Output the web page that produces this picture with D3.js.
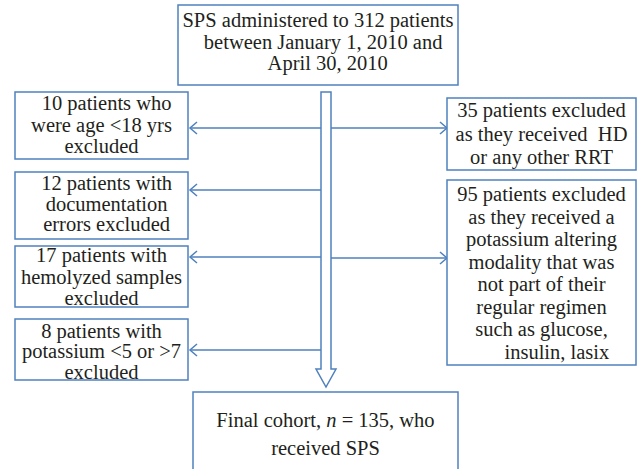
<!DOCTYPE html>
<html>
<head>
<meta charset="utf-8">
<script src="https://cdn.jsdelivr.net/npm/d3@7"></script>
<style>
  body { margin: 0; background: #fff; }
  svg text { font-family: "Liberation Serif", "Times New Roman", Times, "DejaVu Serif", serif; fill: #231f20; white-space: pre; }
</style>
</head>
<body>
<div id="chart"></div>
<script>
/* flowchart texts */
var startText = ["SPS administered to 312 patients", "  between January 1, 2010 and", "    April 30, 2010"];
var leftTexts = [
	["  10 patients who", "were age <18 yrs", "excluded"],
	["  12 patients with", "  documentation", "  errors excluded"],
	["17 patients with", "hemolyzed samples", "excluded"],
	["8 patients with", "potassium <5 or >7", "excluded"]
];
var rightTexts = [
	["35 patients excluded", "as they received  HD", "or any other RRT"],
	["95 patients excluded", "as they received a", "potassium altering", "modality that was",
	 "not part of their", "regular regimen", "such as glucose,", "      insulin, lasix"]
];
var finalText = ["Final cohort, n = 135, who", "received SPS"];

/* size of the graphic */
var width = 641, height = 469;
var blue = "#4f81bd";
var fontSize = 20.5;
var fontFamily = "'Liberation Serif', 'Times New Roman', Times, 'DejaVu Serif', serif";

var svg = d3.select("#chart")
	.append("svg")
		.attr("width", width)
		.attr("height", height);

/* box layout: x, y, w, h, first baseline offset, line height */
var topBox = {x: 178, y: 5, w: 280, h: 80, first: 22, lh: 21.5};
var leftBoxes = [
	{x: 15, y: 92, w: 173, h: 67, first: 18, lh: 21.5},
	{x: 15, y: 172, w: 173, h: 67, first: 18, lh: 20.5},
	{x: 15, y: 246, w: 173, h: 61, first: 16, lh: 21.5},
	{x: 15, y: 319, w: 173, h: 61, first: 18.5, lh: 20.5}
];
var rightBoxes = [
	{x: 447, y: 98, w: 189, h: 72, first: 19, lh: 23.5},
	{x: 447, y: 180, w: 189, h: 185, first: 21, lh: 22.5}
];
var finalBox = {x: 193, y: 392, w: 265, h: 90, first: 35, lh: 28};

var leftArrowY = [128, 190, 257, 350];
var rightArrowY = [128, 258];
var shaft = {x0: 321, x1: 331, top: 92, neck: 369, tip: 387, wing: 5};

function drawBox(b, lines, italicN) {
	svg.append("rect")
		.attr("x", b.x).attr("y", b.y)
		.attr("width", b.w).attr("height", b.h)
		.attr("fill", "#fff")
		.attr("stroke", blue)
		.attr("stroke-width", 1.5);
	var cx = b.x + b.w / 2;
	lines.forEach(function(line, i) {
		var t = svg.append("text")
			.attr("x", cx)
			.attr("y", b.y + b.first + i * b.lh)
			.attr("text-anchor", "middle")
			.attr("font-family", fontFamily)
			.attr("font-size", fontSize);
		if (italicN && line.indexOf("n = ") >= 0) {
			var parts = line.split("n = ");
			t.append("tspan").text(parts[0]);
			t.append("tspan").attr("font-style", "italic").text("n");
			t.append("tspan").text(" = " + parts[1]);
		} else {
			t.text(line);
		}
	});
}

function chevron(x, y, dir) {
	// open arrow head, dir = -1 points left, 1 points right
	svg.append("path")
		.attr("d", "M" + (x - dir * 7) + "," + (y - 6) + " L" + x + "," + y + " L" + (x - dir * 7) + "," + (y + 6))
		.attr("fill", "none")
		.attr("stroke", blue)
		.attr("stroke-width", 1.5);
}

/* side arrows */
leftArrowY.forEach(function(y, i) {
	var tipX = leftBoxes[i].x + leftBoxes[i].w + 2;
	svg.append("line")
		.attr("x1", shaft.x0).attr("y1", y)
		.attr("x2", tipX).attr("y2", y)
		.attr("stroke", blue).attr("stroke-width", 1.5);
	chevron(tipX, y, -1);
});
rightArrowY.forEach(function(y, i) {
	var tipX = rightBoxes[i].x;
	svg.append("line")
		.attr("x1", shaft.x1).attr("y1", y)
		.attr("x2", tipX).attr("y2", y)
		.attr("stroke", blue).attr("stroke-width", 1.5);
	chevron(tipX, y, 1);
});

/* main block arrow */
var mid = (shaft.x0 + shaft.x1) / 2;
svg.append("path")
	.attr("d", "M" + shaft.x0 + "," + shaft.top + " L" + shaft.x1 + "," + shaft.top +
		" L" + shaft.x1 + "," + shaft.neck + " L" + (shaft.x1 + shaft.wing) + "," + shaft.neck +
		" L" + mid + "," + shaft.tip + " L" + (shaft.x0 - shaft.wing) + "," + shaft.neck +
		" L" + shaft.x0 + "," + shaft.neck + " Z")
	.attr("fill", "#fff")
	.attr("stroke", blue)
	.attr("stroke-width", 1.5);

/* boxes */
drawBox(topBox, startText);
leftBoxes.forEach(function(b, i) { drawBox(b, leftTexts[i]); });
rightBoxes.forEach(function(b, i) { drawBox(b, rightTexts[i]); });
drawBox(finalBox, finalText, true);
</script>
</body>
</html>
